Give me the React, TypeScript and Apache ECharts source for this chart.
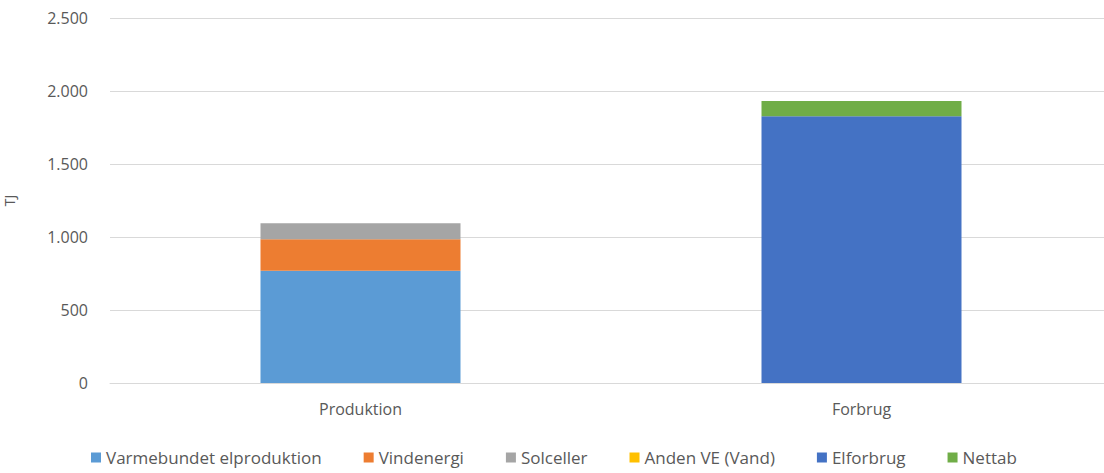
import React, { useEffect, useRef } from "react";
import * as echarts from "echarts";

const categories = ["Produktion", "Forbrug"];
const seriesNames = ["Varmebundet elproduktion", "Vindenergi", "Solceller", "Anden VE (Vand)", "Elforbrug", "Nettab"];
const varmebundet = [769, null];
const vindenergi = [215, null];
const solceller = [110, null];
const andenVE = [0, null];
const elforbrug = [null, 1827];
const nettab = [null, 105];
const colors = ["#5B9BD5", "#ED7D31", "#A5A5A5", "#FFC000", "#4472C4", "#70AD47"];

const FONT = "'Open Sans', sans-serif";

export default function App() {
  const ref = useRef<HTMLDivElement>(null);
  useEffect(() => {
    document.body.style.margin = "0";
    const chart = echarts.init(ref.current!, null, { renderer: "svg" });
    const values = [varmebundet, vindenergi, solceller, andenVE, elforbrug, nettab];
    chart.setOption({
      animation: false,
      color: colors,
      textStyle: { fontFamily: FONT },
      grid: { left: 110, right: 0, top: 18, bottom: 90, containLabel: false, outerBoundsMode: "none" },
      legend: {
        bottom: 2,
        left: 86,
        icon: "rect",
        itemWidth: 10,
        itemHeight: 10,
        itemGap: 42,
        textStyle: { color: "#595959", fontSize: 17, fontFamily: FONT },
        data: seriesNames,
      },
      xAxis: {
        type: "category",
        data: categories,
        axisLine: { lineStyle: { color: "#D9D9D9", width: 1 } },
        axisTick: { show: false },
        axisLabel: { color: "#595959", fontSize: 16, margin: 18, fontFamily: FONT },
      },
      yAxis: {
        type: "value",
        min: 0,
        max: 2500,
        interval: 500,
        name: "TJ",
        nameLocation: "middle",
        nameGap: 94,
        nameTextStyle: { color: "#595959", fontSize: 14, fontFamily: FONT },
        axisLine: { show: false },
        axisTick: { show: false },
        splitLine: { lineStyle: { color: "#D9D9D9", width: 1 } },
        axisLabel: {
          color: "#595959",
          fontSize: 16,
          margin: 22,
          fontFamily: FONT,
          formatter: (v: number) => v.toString().replace(/\B(?=(\d{3})+(?!\d))/g, "."),
        },
      },
      series: seriesNames.map((name, i) => ({
        name,
        type: "bar",
        stack: "total",
        barWidth: 200,
        data: values[i],
        itemStyle: { color: colors[i] },
      })),
    });
    return () => chart.dispose();
  }, []);
  return (
    <div style={{ width: 1104, height: 473, overflow: "hidden", position: "relative" }}>
      <div ref={ref} style={{ width: 1112, height: 473 }} />
    </div>
  );
}
